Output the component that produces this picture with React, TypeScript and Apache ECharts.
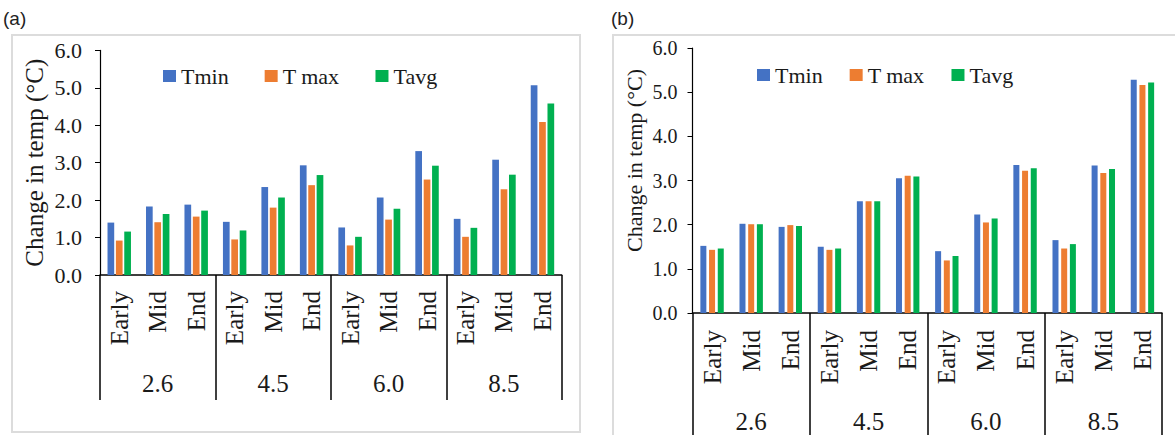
import React, { useEffect, useRef } from "react";
import * as echarts from "echarts";

const periods = ["Early", "Mid", "End", "Early", "Mid", "End", "Early", "Mid", "End", "Early", "Mid", "End"];
const scenarios = ["2.6", "4.5", "6.0", "8.5"];
const seriesNames = ["Tmin", "T max", "Tavg"];

// Panel (a)
const aTmin = [1.40, 1.83, 1.88, 1.42, 2.35, 2.93, 1.27, 2.07, 3.31, 1.50, 3.08, 5.07];
const aTmax = [0.92, 1.41, 1.56, 0.95, 1.80, 2.40, 0.79, 1.48, 2.55, 1.02, 2.29, 4.09];
const aTavg = [1.16, 1.63, 1.72, 1.19, 2.07, 2.67, 1.02, 1.77, 2.92, 1.26, 2.68, 4.58];

// Panel (b)
const bTmin = [1.52, 2.02, 1.95, 1.50, 2.53, 3.05, 1.40, 2.23, 3.35, 1.65, 3.34, 5.28];
const bTmax = [1.43, 2.01, 1.99, 1.43, 2.53, 3.11, 1.19, 2.05, 3.22, 1.46, 3.17, 5.16];
const bTavg = [1.46, 2.01, 1.97, 1.46, 2.53, 3.09, 1.29, 2.14, 3.28, 1.56, 3.26, 5.22];

const colors = ["#4472C4", "#ED7D31", "#00B050"];
const SERIF = "Liberation Serif";
const TXT = "#1a1a1a";

export default function App() {
  const ref = useRef<HTMLDivElement>(null);

  useEffect(() => {
    if (!ref.current) return;
    const chart = echarts.init(ref.current, null, { renderer: "svg" });

    const mkX = (gi: number, labelSize: number, margin: number) => ({
      type: "category",
      gridIndex: gi,
      data: periods,
      axisLine: { show: true, lineStyle: { color: "#000", width: 1.5 } },
      axisTick: { show: false },
      axisLabel: {
        rotate: 90,
        interval: 0,
        fontFamily: SERIF,
        fontSize: labelSize,
        color: TXT,
        margin,
      },
    });
    const mkGroupX = (gi: number, offset: number, labelSize: number, margin: number) => ({
      type: "category",
      gridIndex: gi,
      data: scenarios,
      position: "bottom",
      offset,
      axisLine: { show: false },
      axisTick: {
        show: true,
        inside: true,
        length: offset,
        lineStyle: { color: "#000", width: 1.5 },
      },
      axisLabel: {
        inside: true,
        interval: 0,
        fontFamily: SERIF,
        fontSize: labelSize,
        color: TXT,
        margin,
      },
    });
    const mkY = (
      gi: number,
      labelSize: number,
      labelMargin: number,
      nameSize: number,
      nameGap: number,
      nameShift: number
    ) => ({
      type: "value",
      gridIndex: gi,
      min: 0,
      max: 6,
      interval: 1,
      name: "Change in temp (°C)",
      nameLocation: "middle",
      nameGap,
      nameTextStyle: {
        fontFamily: SERIF,
        fontSize: nameSize,
        color: TXT,
        padding: [0, 0, 0, nameShift],
      },
      axisLine: { show: true, lineStyle: { color: "#000", width: 1.2 } },
      axisTick: { show: true, length: 5, lineStyle: { color: "#000" } },
      splitLine: { show: false },
      axisLabel: {
        fontFamily: SERIF,
        fontSize: labelSize,
        color: TXT,
        margin: labelMargin,
        formatter: (v: number) => v.toFixed(1),
      },
    });

    const aData = [aTmin, aTmax, aTavg];
    const bData = [bTmin, bTmax, bTavg];

    const series: any[] = [];
    aData.forEach((d, i) =>
      series.push({
        type: "bar",
        name: seriesNames[i],
        xAxisIndex: 0,
        yAxisIndex: 0,
        data: d,
        barWidth: 6.7,
        barGap: "25%",
        itemStyle: { color: colors[i] },
      })
    );
    bData.forEach((d, i) =>
      series.push({
        type: "bar",
        name: seriesNames[i],
        xAxisIndex: 2,
        yAxisIndex: 1,
        data: d,
        barWidth: 6,
        barGap: "45%",
        itemStyle: { color: colors[i] },
      })
    );

    const legendBase = {
      data: seriesNames,
      icon: "rect",
      itemWidth: 13,
      itemHeight: 12,
      textStyle: { fontFamily: SERIF, fontSize: 22, color: TXT },
      selectedMode: false,
    };

    chart.setOption({
      animation: false,
      backgroundColor: "#ffffff",
      color: colors,
      grid: [
        { left: 100, top: 50.4, width: 461.7, height: 224.6 },
        { left: 692.5, top: 48, width: 469.5, height: 265 },
      ],
      xAxis: [
        mkX(0, 25, 16),
        mkGroupX(0, 125, 25, 4),
        mkX(1, 25, 17),
        mkGroupX(1, 125, 25, 4),
      ],
      yAxis: [mkY(0, 22, 18, 25, 53, 0), mkY(1, 20, 15, 22, 47, 40)],
      legend: [
        { ...legendBase, left: 158, top: 60, itemGap: 36 },
        { ...legendBase, left: 752, top: 59, itemGap: 27 },
      ],
      graphic: [
        {
          type: "rect",
          shape: { x: 12, y: 35, width: 568, height: 397 },
          style: { fill: "none", stroke: "#dcdcdc", lineWidth: 2 },
          silent: true,
          z: -10,
        },
        {
          type: "rect",
          shape: { x: 613, y: 35, width: 600, height: 420 },
          style: { fill: "none", stroke: "#dcdcdc", lineWidth: 2 },
          silent: true,
          z: -10,
        },
        {
          type: "text",
          left: 3,
          top: 9,
          style: { text: "(a)", fontFamily: "Liberation Sans", fontSize: 19, fill: "#222" },
        },
        {
          type: "text",
          left: 611,
          top: 9,
          style: { text: "(b)", fontFamily: "Liberation Sans", fontSize: 19, fill: "#222" },
        },
      ],
      series,
    });

    return () => chart.dispose();
  }, []);

  return (
    <div
      ref={ref}
      style={{ position: "fixed", left: 0, top: 0, width: 1175, height: 435, background: "#fff" }}
    />
  );
}
